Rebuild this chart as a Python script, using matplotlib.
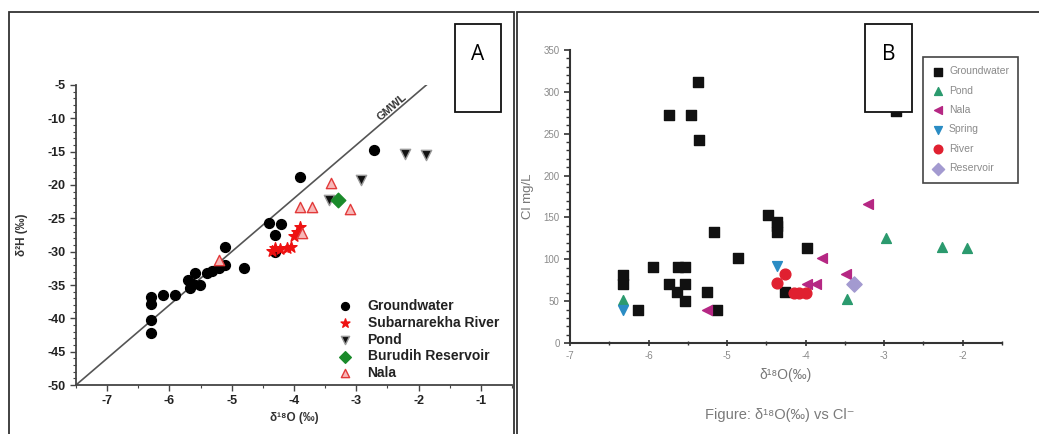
import matplotlib
matplotlib.use("Agg")
import matplotlib.pyplot as plt
from matplotlib.patches import Rectangle
from matplotlib.ticker import MultipleLocator

plt.rcParams['font.family'] = ['Liberation Sans', 'DejaVu Sans']
plt.rcParams['axes.unicode_minus'] = False

# ---- panel A: d18O vs d2H ----
gw_x = [-2.72, -3.91, -4.40, -4.21, -4.30, -4.30, -5.10, -5.10, -5.21, -5.32, -5.40,
        -4.81, -5.59, -5.70, -5.62, -5.51, -5.67, -5.91, -6.11, -6.30, -6.30, -6.30, -6.30]
gw_y = [-14.75, -18.75, -25.7, -25.9, -27.5, -30.0, -29.25, -32.0, -32.5, -32.85, -33.15,
        -32.5, -33.25, -34.25, -34.8, -35.0, -35.5, -36.5, -36.5, -36.75, -37.85, -40.25, -42.25]
riv_x = [-3.90, -3.95, -4.00, -4.05, -4.30, -4.22, -4.11, -4.35]
riv_y = [-26.25, -27.0, -27.65, -29.3, -29.5, -29.65, -29.5, -29.9]
pond_x = [-2.21, -1.88, -2.93, -3.44]
pond_y = [-15.35, -15.5, -19.25, -22.25]
res_x = [-3.30]
res_y = [-22.25]
nala_x = [-3.41, -3.90, -3.71, -3.10, -3.87, -5.20]
nala_y = [-19.75, -23.25, -23.25, -23.65, -27.25, -31.25]
gmwl_x = [-7.5, -1.875]

# ---- panel B: d18O vs Cl ----
b_gw_x = [-5.37, -5.74, -5.46, -5.36, -4.48, -4.37, -4.37, -4.37, -5.17, -3.98, -4.86,
          -5.94, -5.63, -5.54, -6.33, -6.33, -5.74, -5.54, -5.64, -5.26, -4.26, -5.53,
          -6.13, -5.13, -2.85]
b_gw_y = [312, 272, 272, 242, 153, 145, 140, 133, 132, 113, 102,
          91, 91, 91, 81, 71, 71, 71, 61, 61, 61, 50,
          40, 40, 277]
b_pond_x = [-6.33, -2.98, -2.26, -1.94, -3.47]
b_pond_y = [51, 125, 115, 114, 52]
b_nala_x = [-3.20, -3.79, -3.49, -3.98, -3.87, -5.26]
b_nala_y = [166, 102, 82, 71, 71, 40]
b_spr_x = [-6.33, -4.37]
b_spr_y = [39, 92]
b_riv_x = [-4.36, -4.26, -4.15, -4.08, -4.00]
b_riv_y = [72, 82, 60, 60, 60]
b_res_x = [-3.38]
b_res_y = [71]

W, H = 1039, 434
fig = plt.figure(figsize=(W / 100, H / 100), dpi=100)


def fx(px):
    return px / W


def fy(py):
    return 1 - py / H


# panel frames
for x0, x1 in [(9, 514), (517, 1045)]:
    fig.add_artist(Rectangle((fx(x0), fy(440)), fx(x1 - x0), (440 - 12) / H,
                             transform=fig.transFigure, fill=False,
                             ec='#333333', lw=1.3, zorder=1))

# ---- A ----
axA = fig.add_axes([fx(76), fy(385), fx(436), (385 - 85) / H])
axA.plot(gmwl_x, [8 * v + 10 for v in gmwl_x], color='#555555', lw=1.2, zorder=1)
axA.scatter(gw_x, gw_y, s=50, marker='o', color='black', label='Groundwater', zorder=3)
axA.scatter(riv_x, riv_y, s=70, marker='*', color='#ee1111', label='Subarnarekha River', zorder=3)
axA.scatter(pond_x, pond_y, s=55, marker='v', facecolor='#111111', edgecolor='#999999',
            lw=1, label='Pond', zorder=3)
axA.scatter(res_x, res_y, s=55, marker='D', color='#1a8a2a', label='Burudih Reservoir', zorder=3)
axA.scatter(nala_x, nala_y, s=55, marker='^', facecolor='#f7b8b8', edgecolor='#e23a3a',
            lw=1, label='Nala', zorder=3)
axA.set_xlim(-7.5, -0.5)
axA.set_ylim(-50, -5)
axA.xaxis.set_major_locator(MultipleLocator(1))
axA.xaxis.set_minor_locator(MultipleLocator(0.5))
axA.yaxis.set_major_locator(MultipleLocator(5))
axA.yaxis.set_minor_locator(MultipleLocator(1))
for s in ['top', 'right']:
    axA.spines[s].set_visible(False)
for s in ['left', 'bottom']:
    axA.spines[s].set_color('#444444')
    axA.spines[s].set_linewidth(1.3)
axA.tick_params(which='major', length=4, width=1, labelsize=9, colors='#444444',
                labelcolor='#222222')
axA.tick_params(which='minor', length=2.5, width=0.8, colors='#444444')
for lab in axA.get_xticklabels() + axA.get_yticklabels():
    lab.set_fontweight('bold')
axA.set_xlabel('δ¹⁸O (‰)', fontsize=8.5, fontweight='bold', color='#333333', labelpad=3)
axA.set_ylabel('δ²H (‰)', fontsize=8.5, fontweight='bold', color='#333333', labelpad=14)
axA.text(-2.42, -8.4, 'GMWL', rotation=40.6, fontsize=8, fontweight='bold',
         color='#333333', ha='center', va='center')
axA.legend(loc='upper left', bbox_to_anchor=(fx(330), fy(292)),
           bbox_transform=fig.transFigure, frameon=False,
           prop={'weight': 'bold', 'size': 10}, handletextpad=1.0,
           labelspacing=0.2, borderpad=0, handlelength=1.2, markerscale=0.8,
           labelcolor='#222222')

# ---- B ----
grey = '#8a8a8a'
axB = fig.add_axes([fx(570), fy(343), fx(432), (343 - 50) / H])
axB.scatter(b_gw_x, b_gw_y, s=50, marker='s', color='#111111', label='Groundwater', zorder=3)
axB.scatter(b_pond_x, b_pond_y, s=50, marker='^', color='#2b9a6e', label='Pond', zorder=3)
axB.scatter(b_nala_x, b_nala_y, s=50, marker='<', color='#b52783', label='Nala', zorder=3)
axB.scatter(b_spr_x, b_spr_y, s=50, marker='v', color='#2a8cc4', label='Spring', zorder=3)
axB.scatter(b_riv_x, b_riv_y, s=60, marker='o', color='#e02030', label='River', zorder=3)
axB.scatter(b_res_x, b_res_y, s=60, marker='D', color='#a39ad0', label='Reservoir', zorder=3)
axB.set_xlim(-7, -1.5)
axB.set_ylim(0, 350)
axB.set_xticks([-7, -6, -5, -4, -3, -2])
axB.xaxis.set_minor_locator(MultipleLocator(0.5))
axB.yaxis.set_major_locator(MultipleLocator(50))
axB.yaxis.set_minor_locator(MultipleLocator(10))
for s in ['top', 'right']:
    axB.spines[s].set_visible(False)
for s in ['left', 'bottom']:
    axB.spines[s].set_color('#333333')
    axB.spines[s].set_linewidth(1.5)
axB.tick_params(which='major', length=4, width=1.2, labelsize=7, colors='#333333',
                labelcolor=grey)
axB.tick_params(axis='x', which='both', direction='inout')
axB.tick_params(which='minor', length=3, width=1, colors='#333333')
axB.set_xlabel('δ¹⁸O(‰)', fontsize=10, color='#777777', labelpad=5)
axB.set_ylabel('Cl mg/L', fontsize=9.5, color='#777777', labelpad=7)
fig.text(fx(780), fy(415), 'Figure: δ¹⁸O(‰) vs Cl⁻', fontsize=10.5, color='#7a7a7a',
         ha='center', va='center')
legB = axB.legend(loc='upper left', bbox_to_anchor=(fx(923), fy(57)),
                  bbox_transform=fig.transFigure, fancybox=False, framealpha=1,
                  edgecolor='#444444', prop={'size': 7.5}, labelcolor=grey,
                  handletextpad=0.6, labelspacing=0.9, borderpad=0.9,
                  borderaxespad=0, handlelength=1.0, markerscale=0.8)
legB.get_frame().set_linewidth(1.2)

# label boxes A / B
for x0, x1, letter in [(455, 501, 'A'), (865, 912, 'B')]:
    fig.add_artist(Rectangle((fx(x0), fy(112)), fx(x1 - x0), (112 - 24) / H,
                             transform=fig.transFigure, fc='white', ec='#111111',
                             lw=1.3, zorder=10))
    fig.text(fx((x0 + x1) / 2), fy(55), letter, fontsize=15, ha='center', va='center',
             family=['Open Sans', 'DejaVu Sans'], zorder=11)

fig.savefig('out.png', dpi=100)
